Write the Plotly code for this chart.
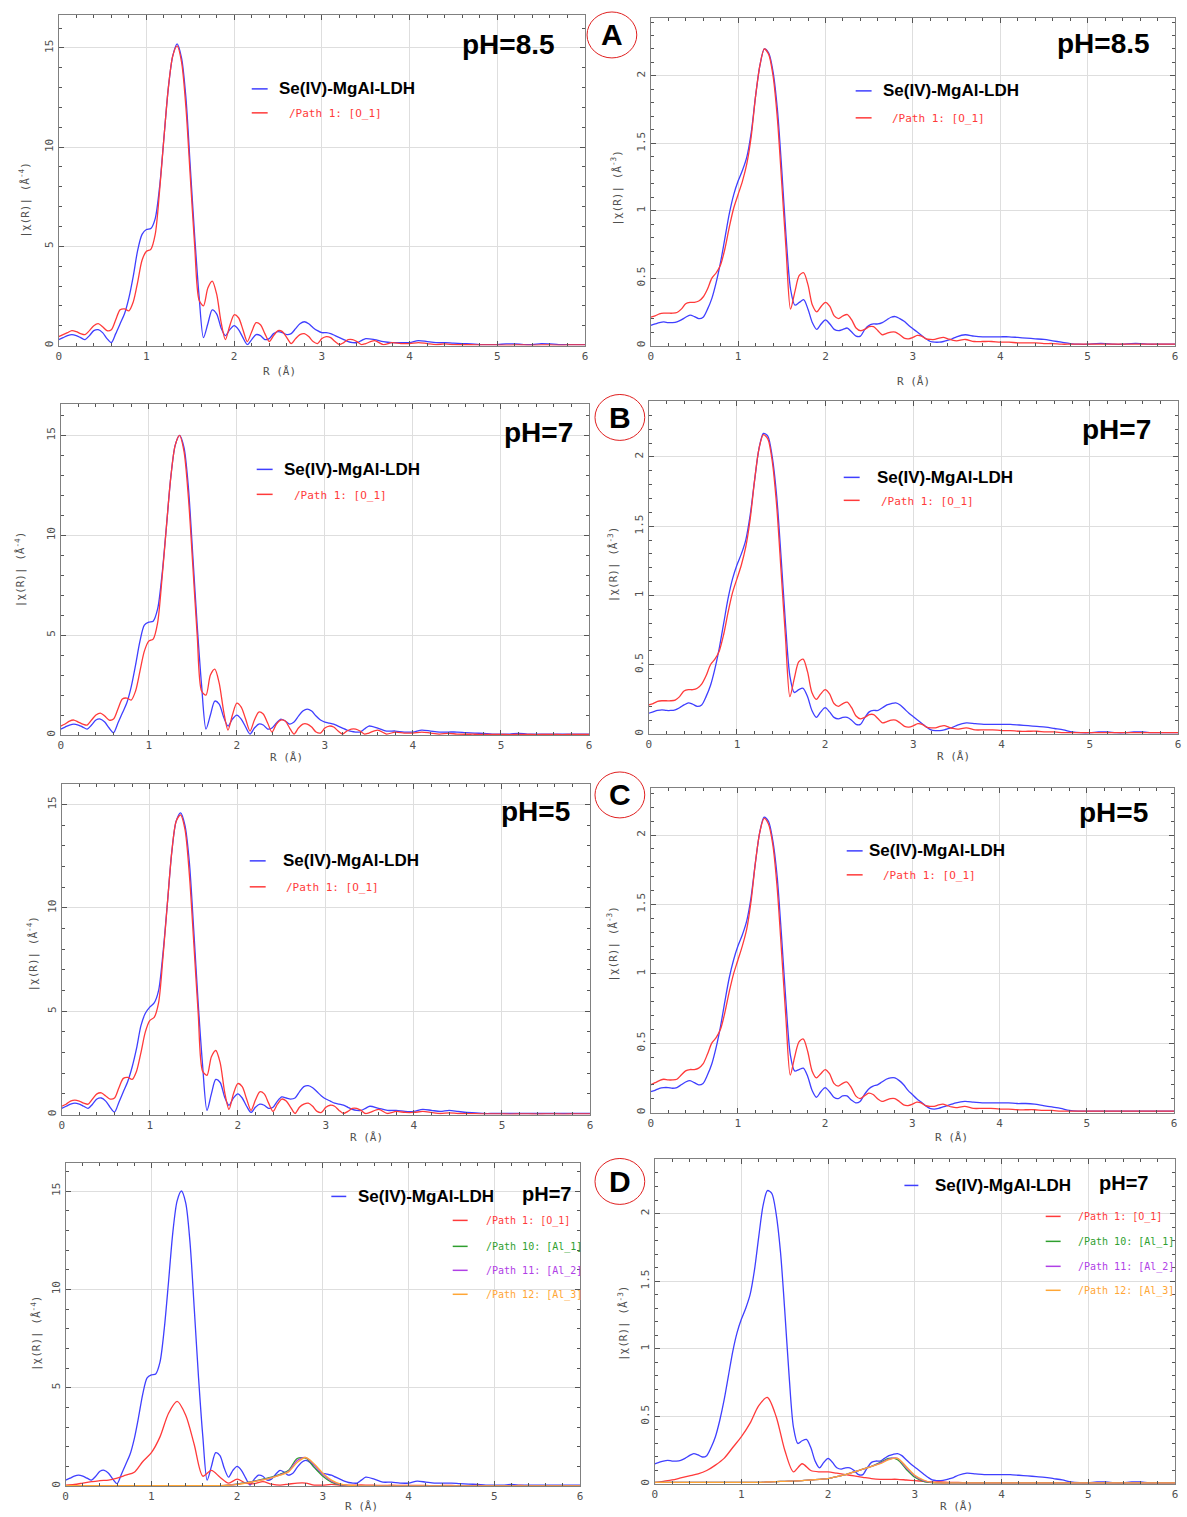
import plotly.graph_objects as go

W, H = 1187, 1517


def px(x):
    return x / W


def py(y):
    return 1 - y / H


# ---------------- data ----------------
r_grid = [0.0, 0.05, 0.1, 0.15, 0.2, 0.25, 0.3, 0.35, 0.4, 0.45, 0.5, 0.55, 0.6, 0.65, 0.7, 0.75,
          0.8, 0.85, 0.9, 0.95, 1.0, 1.05, 1.1, 1.15, 1.2, 1.25, 1.3, 1.35, 1.4, 1.45, 1.5, 1.55,
          1.6, 1.65, 1.7, 1.75, 1.8, 1.85, 1.9, 1.95, 2.0, 2.05, 2.1, 2.15, 2.2, 2.25, 2.3, 2.35,
          2.4, 2.45, 2.5, 2.55, 2.6, 2.65, 2.7, 2.75, 2.8, 2.85, 2.9, 2.95, 3.0, 3.05, 3.1, 3.15,
          3.2, 3.25, 3.3, 3.35, 3.4, 3.45, 3.5, 3.6, 3.7, 3.8, 3.9, 4.0, 4.1, 4.2, 4.3, 4.4, 4.5,
          4.6, 4.7, 4.8, 4.9, 5.0, 5.1, 5.2, 5.3, 5.4, 5.5, 5.6, 5.7, 5.8, 5.9, 6.0]

r_coarse = [0.0, 0.1, 0.2, 0.3, 0.4, 0.5, 0.6, 0.7, 0.8, 0.9, 1.0, 1.1, 1.2, 1.3, 1.4, 1.5, 1.6,
            1.7, 1.8, 1.9, 2.0, 2.1, 2.2, 2.3, 2.4, 2.5, 2.6, 2.7, 2.8, 2.9, 3.0, 3.1, 3.2, 3.3,
            3.4, 3.5, 3.6, 3.7, 3.8, 3.9, 4.0, 4.1, 4.2, 4.3, 4.4, 4.5, 4.6, 4.7, 4.8, 4.9, 5.0,
            5.1, 5.2, 5.3, 5.4, 5.5, 5.6, 5.7, 5.8, 5.9, 6.0]

x_ticks = [0, 1, 2, 3, 4, 5, 6]
x_tick_text = ["0", "1", "2", "3", "4", "5", "6"]
y_ticks_k4 = [0, 5, 10, 15]
y_tick_text_k4 = ["0", "5", "10", "15"]
y_ticks_k3 = [0, 0.5, 1, 1.5, 2]
y_tick_text_k3 = ["0", "0.5", "1", "1.5", "2"]

# pH = 8.5
data_85_k4 = [0.3, 0.4, 0.5, 0.55, 0.5, 0.4, 0.3, 0.5, 0.75, 0.8, 0.65, 0.35, 0.15, 0.6, 1.1, 1.6,
              2.4, 3.5, 4.8, 5.6, 5.85, 5.9, 6.4, 8.0, 10.5, 13.0, 14.6, 15.2, 14.5, 12.5, 9.0, 5.5,
              2.5, 0.4, 1.1, 1.8, 1.6, 0.9, 0.5, 0.8, 1.0, 0.8, 0.4, 0.05, 0.3, 0.55, 0.5, 0.3,
              0.35, 0.6, 0.7, 0.65, 0.55, 0.6, 0.85, 1.1, 1.2, 1.1, 0.9, 0.75, 0.65, 0.65, 0.6,
              0.5, 0.4, 0.3, 0.2, 0.15, 0.15, 0.25, 0.35,
              0.3, 0.2, 0.15, 0.15, 0.15, 0.25, 0.2, 0.15, 0.15, 0.12, 0.1, 0.08, 0.05, 0.05,
              0.05, 0.08, 0.08, 0.05, 0.05, 0.1, 0.08, 0.05, 0.05, 0.05, 0.05]
fit_85_k4 = [0.45, 0.55, 0.65, 0.75, 0.7, 0.6, 0.55, 0.75, 1.0, 1.1, 0.95, 0.75, 0.8, 1.3, 1.8,
             1.85, 1.75, 2.2, 3.2, 4.3, 4.75, 4.85, 5.6, 7.8, 10.5, 13.0, 14.6, 15.1, 14.3, 12.0,
             8.5, 5.0, 2.3, 2.0, 2.9, 3.25, 2.6, 1.2, 0.3, 1.0, 1.55, 1.4, 0.8, 0.2, 0.7, 1.15,
             1.05, 0.6, 0.2, 0.5, 0.75, 0.7, 0.4, 0.1, 0.35, 0.55, 0.6, 0.45, 0.2, 0.1, 0.35,
             0.45, 0.4, 0.2, 0.05, 0.15, 0.3, 0.3, 0.2, 0.05, 0.1,
             0.25, 0.05, 0.15, 0.1, 0.1, 0.15, 0.1, 0.05, 0.08, 0.05, 0.04, 0.04, 0.03, 0.03,
             0.03, 0.02, 0.03, 0.03, 0.02, 0.03, 0.03, 0.02, 0.03, 0.03, 0.03]
data_85_k3 = [0.15, 0.16, 0.17, 0.175, 0.17, 0.17, 0.175, 0.19, 0.21, 0.225, 0.215, 0.2, 0.21,
              0.27, 0.35, 0.47, 0.62, 0.8, 0.98, 1.12, 1.22, 1.3, 1.4, 1.58, 1.85, 2.08, 2.2,
              2.17, 2.03, 1.75, 1.3, 0.8, 0.42, 0.3, 0.32, 0.34, 0.27, 0.17, 0.12, 0.16, 0.19,
              0.16, 0.12, 0.11, 0.12, 0.13, 0.1, 0.07, 0.07, 0.12, 0.15, 0.16, 0.16, 0.17, 0.19,
              0.21, 0.215, 0.2, 0.18, 0.15, 0.125, 0.1, 0.075, 0.05, 0.03, 0.025, 0.025, 0.03,
              0.04, 0.05, 0.065,
              0.08, 0.07, 0.065, 0.065, 0.065, 0.065, 0.06, 0.055, 0.05, 0.045, 0.035, 0.025,
              0.015, 0.01, 0.01, 0.015, 0.015, 0.01, 0.01, 0.015, 0.015, 0.01, 0.01, 0.01, 0.01]
fit_85_k3 = [0.21, 0.22, 0.235, 0.24, 0.24, 0.24, 0.245, 0.27, 0.31, 0.32, 0.32, 0.33, 0.36, 0.42,
             0.5, 0.54, 0.6, 0.72, 0.88, 1.02, 1.12, 1.22, 1.35, 1.55, 1.85, 2.08, 2.2, 2.16, 2.0,
             1.68, 1.2, 0.7, 0.27, 0.4, 0.52, 0.54, 0.45, 0.3, 0.25, 0.29, 0.32, 0.29, 0.22, 0.2,
             0.22, 0.23, 0.19, 0.13, 0.11, 0.12, 0.14, 0.14, 0.11, 0.08, 0.09, 0.1, 0.1, 0.08,
             0.055, 0.05, 0.06, 0.075, 0.07, 0.05, 0.045, 0.045, 0.055, 0.06, 0.05, 0.04, 0.035,
             0.045, 0.03, 0.03, 0.03, 0.025, 0.025, 0.02, 0.02, 0.02, 0.015, 0.015, 0.01, 0.01,
             0.01, 0.01, 0.01, 0.01, 0.01, 0.01, 0.01, 0.01, 0.01, 0.01, 0.01, 0.01]

# pH = 7
data_7_k4 = [0.3, 0.4, 0.5, 0.55, 0.5, 0.4, 0.3, 0.5, 0.75, 0.8, 0.65, 0.35, 0.12, 0.6, 1.1, 1.6,
             2.4, 3.5, 4.7, 5.5, 5.65, 5.7, 6.3, 8.0, 10.4, 12.9, 14.5, 15.0, 14.4, 12.4, 9.0, 5.5,
             2.5, 0.3, 1.0, 1.7, 1.55, 0.9, 0.45, 0.8, 1.0, 0.8, 0.4, 0.05, 0.35, 0.55, 0.5, 0.3,
             0.35, 0.6, 0.8, 0.7, 0.55, 0.65, 0.95, 1.2, 1.3, 1.2, 0.95, 0.75, 0.65, 0.6, 0.55,
             0.45, 0.35, 0.25, 0.18, 0.15, 0.15, 0.3, 0.45,
             0.35, 0.2, 0.2, 0.15, 0.15, 0.25, 0.2, 0.15, 0.15, 0.15, 0.12, 0.1, 0.08, 0.05, 0.05,
             0.05, 0.08, 0.05, 0.05, 0.05, 0.05, 0.05, 0.05, 0.05, 0.05]
fit_7_k4 = [0.45, 0.55, 0.7, 0.75, 0.65, 0.55, 0.5, 0.75, 1.0, 1.1, 0.95, 0.75, 0.8, 1.3, 1.8,
            1.85, 1.75, 2.2, 3.2, 4.2, 4.7, 4.8, 5.6, 7.8, 10.4, 12.9, 14.5, 15.0, 14.2, 11.9,
            8.5, 5.0, 2.2, 2.0, 3.0, 3.3, 2.6, 1.2, 0.25, 1.0, 1.6, 1.4, 0.8, 0.2, 0.75, 1.15,
            1.05, 0.6, 0.15, 0.55, 0.75, 0.7, 0.35, 0.05, 0.35, 0.55, 0.55, 0.4, 0.15, 0.1, 0.35,
            0.45, 0.4, 0.2, 0.05, 0.2, 0.3, 0.3, 0.2, 0.05, 0.1,
            0.25, 0.05, 0.15, 0.1, 0.1, 0.15, 0.1, 0.05, 0.08, 0.05, 0.04, 0.04, 0.03, 0.03,
            0.03, 0.02, 0.03, 0.03, 0.02, 0.03, 0.03, 0.02, 0.03, 0.03, 0.03]
data_7_k3 = [0.15, 0.16, 0.17, 0.175, 0.17, 0.17, 0.175, 0.19, 0.21, 0.225, 0.215, 0.2, 0.21,
             0.27, 0.35, 0.47, 0.62, 0.8, 0.98, 1.12, 1.22, 1.3, 1.4, 1.58, 1.83, 2.06, 2.17,
             2.15, 2.0, 1.72, 1.28, 0.8, 0.42, 0.3, 0.32, 0.33, 0.27, 0.17, 0.12, 0.16, 0.19,
             0.16, 0.12, 0.11, 0.12, 0.12, 0.1, 0.07, 0.07, 0.12, 0.16, 0.17, 0.17, 0.19, 0.21,
             0.22, 0.225, 0.21, 0.18, 0.15, 0.125, 0.1, 0.075, 0.05, 0.03, 0.025, 0.025, 0.03,
             0.04, 0.05, 0.065,
             0.08, 0.075, 0.07, 0.07, 0.07, 0.07, 0.065, 0.06, 0.055, 0.05, 0.04, 0.03, 0.015,
             0.01, 0.01, 0.015, 0.015, 0.01, 0.01, 0.015, 0.015, 0.01, 0.01, 0.01, 0.01]
fit_7_k3 = [0.21, 0.22, 0.235, 0.24, 0.24, 0.24, 0.245, 0.27, 0.31, 0.32, 0.32, 0.33, 0.36, 0.42,
            0.5, 0.54, 0.6, 0.72, 0.88, 1.02, 1.12, 1.22, 1.35, 1.55, 1.83, 2.06, 2.16, 2.13,
            1.97, 1.65, 1.18, 0.7, 0.27, 0.4, 0.52, 0.54, 0.45, 0.3, 0.25, 0.29, 0.32, 0.29,
            0.22, 0.2, 0.22, 0.23, 0.19, 0.13, 0.11, 0.12, 0.14, 0.14, 0.11, 0.08, 0.09, 0.1,
            0.1, 0.08, 0.055, 0.05, 0.06, 0.075, 0.07, 0.05, 0.045, 0.045, 0.055, 0.06, 0.05,
            0.04, 0.035,
            0.045, 0.03, 0.03, 0.03, 0.025, 0.025, 0.02, 0.02, 0.02, 0.015, 0.015, 0.01, 0.01,
            0.01, 0.01, 0.01, 0.01, 0.01, 0.01, 0.01, 0.01, 0.01, 0.01, 0.01, 0.01]

# pH = 5
data_5_k4 = [0.3, 0.4, 0.5, 0.55, 0.5, 0.4, 0.3, 0.5, 0.75, 0.8, 0.65, 0.35, 0.12, 0.6, 1.1, 1.6,
             2.3, 3.2, 4.3, 4.9, 5.2, 5.4, 6.0, 7.8, 10.2, 12.7, 14.2, 14.6, 14.0, 12.2, 8.9, 5.4,
             2.4, 0.2, 1.0, 1.7, 1.55, 0.85, 0.45, 0.8, 1.0, 0.8, 0.4, 0.1, 0.35, 0.5, 0.45, 0.3,
             0.35, 0.65, 0.85, 0.8, 0.75, 0.8, 1.1, 1.35, 1.4, 1.3, 1.1, 0.9, 0.75, 0.65, 0.55,
             0.5, 0.45, 0.35, 0.25, 0.2, 0.2, 0.3, 0.4,
             0.3, 0.2, 0.2, 0.15, 0.15, 0.25, 0.2, 0.15, 0.2, 0.15, 0.1, 0.08, 0.05, 0.05, 0.05,
             0.05, 0.05, 0.05, 0.05, 0.05, 0.05, 0.05, 0.05, 0.05, 0.05]
fit_5_k4 = [0.4, 0.5, 0.65, 0.7, 0.65, 0.55, 0.5, 0.75, 1.0, 1.05, 0.9, 0.75, 0.8, 1.3, 1.75,
            1.8, 1.7, 2.1, 3.0, 4.0, 4.55, 4.7, 5.4, 7.6, 10.2, 12.7, 14.2, 14.5, 13.8, 11.6,
            8.3, 4.9, 2.1, 1.9, 2.8, 3.1, 2.5, 1.1, 0.25, 1.0, 1.5, 1.35, 0.75, 0.2, 0.7, 1.1,
            1.0, 0.55, 0.15, 0.5, 0.75, 0.65, 0.35, 0.05, 0.35, 0.5, 0.55, 0.4, 0.15, 0.1, 0.35,
            0.45, 0.4, 0.2, 0.05, 0.15, 0.3, 0.3, 0.2, 0.05, 0.1,
            0.25, 0.05, 0.15, 0.1, 0.1, 0.15, 0.1, 0.05, 0.08, 0.05, 0.04, 0.04, 0.03, 0.03,
            0.03, 0.02, 0.03, 0.03, 0.02, 0.03, 0.03, 0.02, 0.03, 0.03, 0.03]
data_5_k3 = [0.15, 0.16, 0.175, 0.18, 0.18, 0.175, 0.18, 0.2, 0.22, 0.23, 0.215, 0.2, 0.21, 0.27,
             0.35, 0.47, 0.62, 0.8, 0.97, 1.1, 1.2, 1.28, 1.38, 1.55, 1.8, 2.02, 2.13, 2.1, 1.96,
             1.7, 1.27, 0.8, 0.42, 0.3, 0.31, 0.32, 0.26, 0.16, 0.11, 0.15, 0.18, 0.15, 0.11,
             0.1, 0.12, 0.12, 0.09, 0.07, 0.08, 0.13, 0.17, 0.19, 0.2, 0.22, 0.24, 0.25, 0.25,
             0.23, 0.2, 0.16, 0.13, 0.1, 0.075, 0.05, 0.03, 0.025, 0.03, 0.04, 0.05, 0.06, 0.07,
             0.08, 0.075, 0.07, 0.07, 0.07, 0.07, 0.065, 0.065, 0.06, 0.05, 0.04, 0.03, 0.015,
             0.01, 0.01, 0.01, 0.01, 0.01, 0.01, 0.01, 0.01, 0.01, 0.01, 0.01, 0.01]
fit_5_k3 = [0.2, 0.215, 0.23, 0.24, 0.235, 0.235, 0.24, 0.27, 0.3, 0.31, 0.31, 0.32, 0.35, 0.42,
            0.5, 0.54, 0.6, 0.72, 0.87, 1.0, 1.1, 1.2, 1.32, 1.52, 1.8, 2.02, 2.12, 2.08, 1.93,
            1.62, 1.16, 0.68, 0.27, 0.4, 0.51, 0.53, 0.44, 0.3, 0.25, 0.28, 0.31, 0.28, 0.21,
            0.19, 0.21, 0.22, 0.18, 0.12, 0.1, 0.12, 0.14, 0.13, 0.1, 0.08, 0.09, 0.1, 0.1, 0.08,
            0.055, 0.05, 0.06, 0.075, 0.07, 0.05, 0.045, 0.045, 0.055, 0.06, 0.05, 0.04, 0.035,
            0.045, 0.03, 0.03, 0.03, 0.025, 0.025, 0.02, 0.02, 0.02, 0.015, 0.015, 0.01, 0.01,
            0.01, 0.01, 0.01, 0.01, 0.01, 0.01, 0.01, 0.01, 0.01, 0.01, 0.01, 0.01]

# pH = 7, single-path contributions (coarse grid)
path1_k4 = [0.05, 0.08, 0.15, 0.22, 0.28, 0.3, 0.4, 0.55, 0.7, 1.25, 1.7, 2.5, 3.7, 4.3, 3.6, 2.1,
            0.5, 0.8, 0.45, 0.15, 0.35, 0.15, 0.12, 0.22, 0.1, 0.05, 0.1, 0.15, 0.15, 0.05, 0.05,
            0.08, 0.05, 0.03, 0.05, 0.05, 0.04, 0.03, 0.04, 0.03, 0.03,
            0.03, 0.03, 0.02, 0.03, 0.03, 0.02, 0.02, 0.03, 0.02, 0.02, 0.02, 0.02, 0.03, 0.02,
            0.02, 0.02, 0.02, 0.02, 0.02, 0.02]
path10_k4 = [0.02, 0.02, 0.02, 0.02, 0.02, 0.02, 0.02, 0.02, 0.02, 0.02, 0.02, 0.02, 0.02, 0.02,
             0.02, 0.02, 0.02, 0.02, 0.02, 0.05, 0.1, 0.17, 0.25, 0.35, 0.45, 0.6, 0.8, 1.4, 1.42,
             0.95, 0.5, 0.2, 0.07, 0.02, 0.01, 0.01, 0.01, 0.01, 0.01, 0.01, 0.01, 0.01, 0.01,
             0.01, 0.01, 0.01, 0.01, 0.01, 0.01, 0.01, 0.01, 0.01, 0.01, 0.01, 0.01, 0.01, 0.01,
             0.01, 0.01, 0.01, 0.01]
path11_k4 = [0.02, 0.02, 0.02, 0.02, 0.02, 0.02, 0.02, 0.02, 0.02, 0.02, 0.02, 0.02, 0.02, 0.02,
             0.02, 0.02, 0.02, 0.02, 0.02, 0.05, 0.09, 0.16, 0.24, 0.33, 0.43, 0.57, 0.75, 1.3,
             1.45, 1.05, 0.58, 0.25, 0.09, 0.03, 0.01, 0.01, 0.01, 0.01, 0.01, 0.01, 0.01, 0.01,
             0.01, 0.01, 0.01, 0.01, 0.01, 0.01, 0.01, 0.01, 0.01, 0.01, 0.01, 0.01, 0.01, 0.01,
             0.01, 0.01, 0.01, 0.01, 0.01]
path12_k4 = [0.02, 0.02, 0.02, 0.02, 0.02, 0.02, 0.02, 0.02, 0.02, 0.02, 0.02, 0.02, 0.02, 0.02,
             0.02, 0.02, 0.02, 0.02, 0.02, 0.04, 0.08, 0.15, 0.22, 0.31, 0.41, 0.55, 0.72, 1.2,
             1.45, 1.12, 0.65, 0.3, 0.11, 0.04, 0.01, 0.01, 0.01, 0.01, 0.01, 0.01, 0.01, 0.01,
             0.01, 0.01, 0.01, 0.01, 0.01, 0.01, 0.01, 0.01, 0.01, 0.01, 0.01, 0.01, 0.01, 0.01,
             0.01, 0.01, 0.01, 0.01, 0.01]
path1_k3 = [0.01, 0.02, 0.03, 0.045, 0.06, 0.075, 0.1, 0.14, 0.19, 0.27, 0.35, 0.45, 0.58, 0.64,
            0.5, 0.25, 0.09, 0.15, 0.1, 0.09, 0.09, 0.08, 0.07, 0.06, 0.05, 0.04, 0.035, 0.035,
            0.035, 0.03, 0.025, 0.02, 0.015, 0.015, 0.012, 0.012, 0.01, 0.01, 0.01, 0.01, 0.01,
            0.01, 0.01, 0.01, 0.01, 0.01, 0.01, 0.01, 0.01, 0.01, 0.01, 0.01, 0.01, 0.01, 0.01,
            0.01, 0.01, 0.01, 0.01, 0.01, 0.01]
path10_k3 = [0.012, 0.012, 0.012, 0.012, 0.012, 0.012, 0.012, 0.012, 0.012, 0.012, 0.012, 0.012,
             0.012, 0.015, 0.018, 0.02, 0.022, 0.025, 0.03, 0.035, 0.04, 0.055, 0.07, 0.09, 0.11,
             0.13, 0.16, 0.19, 0.18, 0.11, 0.05, 0.02, 0.01, 0.008, 0.008, 0.008, 0.008, 0.008,
             0.008, 0.008, 0.008, 0.008, 0.008, 0.008, 0.008, 0.008, 0.008, 0.008, 0.008, 0.008,
             0.008, 0.008, 0.008, 0.008, 0.008, 0.008, 0.008, 0.008, 0.008, 0.008, 0.008]
path11_k3 = [0.012, 0.012, 0.012, 0.012, 0.012, 0.012, 0.012, 0.012, 0.012, 0.012, 0.012, 0.012,
             0.012, 0.015, 0.018, 0.02, 0.022, 0.025, 0.03, 0.035, 0.04, 0.055, 0.07, 0.09, 0.11,
             0.13, 0.155, 0.185, 0.19, 0.12, 0.06, 0.025, 0.012, 0.008, 0.008, 0.008, 0.008,
             0.008, 0.008, 0.008, 0.008, 0.008, 0.008, 0.008, 0.008, 0.008, 0.008, 0.008, 0.008,
             0.008, 0.008, 0.008, 0.008, 0.008, 0.008, 0.008, 0.008, 0.008, 0.008, 0.008, 0.008]
path12_k3 = [0.012, 0.012, 0.012, 0.012, 0.012, 0.012, 0.012, 0.012, 0.012, 0.012, 0.012, 0.012,
             0.012, 0.015, 0.018, 0.02, 0.022, 0.025, 0.03, 0.035, 0.04, 0.055, 0.07, 0.09, 0.11,
             0.13, 0.15, 0.18, 0.19, 0.13, 0.065, 0.03, 0.012, 0.008, 0.008, 0.008, 0.008, 0.008,
             0.008, 0.008, 0.008, 0.008, 0.008, 0.008, 0.008, 0.008, 0.008, 0.008, 0.008, 0.008,
             0.008, 0.008, 0.008, 0.008, 0.008, 0.008, 0.008, 0.008, 0.008, 0.008, 0.008]

legend_data = "Se(IV)-MgAl-LDH"
legend_paths = ["/Path 1: [O_1]", "/Path 10: [Al_1]", "/Path 11: [Al_2]", "/Path 12: [Al_3]"]

# ---------------- styling ----------------
BLUE = "#3f3fff"
RED = "#ff3a3a"
GREEN = "#2f9f2f"
PURPLE = "#b040e6"
ORANGE = "#ffa635"
path_colors = [RED, GREEN, PURPLE, ORANGE]

MONO = "DejaVu Sans Mono"
TICKFONT = dict(family=MONO, size=11, color="#505050")
TITLEFONT = dict(family=MONO, size=11, color="#505050")
BOLD = "Liberation Sans"

k4 = dict(ticks=y_ticks_k4, text=y_tick_text_k4, minor=1,
          title="|χ(R)| (Å<sup>-4</sup>)")
k3 = dict(ticks=y_ticks_k3, text=y_tick_text_k3, minor=0.1,
          title="|χ(R)| (Å<sup>-3</sup>)")

panels = [
    dict(frame=(56, 15, 585, 346), ymax=16.66, ax=k4, ph="pH=8.5", phc=(508, 45),
         series=[(r_grid, data_85_k4, BLUE), (r_grid, fit_85_k4, RED)],
         xt=(278, 372), yt=(22, 200), leg=(250, 89, 113, 275, 285),
         boxes=[(238, 55, 445, 138), (445, 18, 584, 70)]),
    dict(frame=(651, 18, 1178, 346), ymax=2.43, ax=k3, ph="pH=8.5", phc=(1106, 44),
         series=[(r_grid, data_85_k3, BLUE), (r_grid, fit_85_k3, RED)],
         xt=(915, 382), yt=(617, 188), leg=(857, 91, 118, 882, 892),
         boxes=[(845, 95, 1040, 133), (880, 21, 1176, 95)]),
    dict(frame=(58, 405, 589, 736), ymax=16.55, ax=k4, ph="pH=7", phc=(538, 433),
         series=[(r_grid, data_7_k4, BLUE), (r_grid, fit_7_k4, RED)],
         xt=(285, 758), yt=(17, 570), leg=(255, 470, 495, 280, 290),
         boxes=[(240, 455, 440, 532), (442, 408, 586, 470)]),
    dict(frame=(649, 402, 1181, 735), ymax=2.40, ax=k3, ph="pH=7", phc=(1119, 430),
         series=[(r_grid, data_7_k3, BLUE), (r_grid, fit_7_k3, RED)],
         xt=(955, 757), yt=(613, 565), leg=(845, 478, 501, 876, 880),
         boxes=[(820, 460, 1030, 525), (1030, 405, 1178, 470)]),
    dict(frame=(59, 785, 590, 1116), ymax=16.0, ax=k4, ph="pH=5", phc=(535, 813),
         series=[(r_grid, data_5_k4, BLUE), (r_grid, fit_5_k4, RED)],
         xt=(365, 1139), yt=(30, 955), leg=(248, 862, 888, 279, 282),
         boxes=[(235, 845, 440, 935), (446, 788, 587, 840)]),
    dict(frame=(651, 789, 1177, 1114), ymax=2.34, ax=k3, ph="pH=5", phc=(1116, 814),
         series=[(r_grid, data_5_k3, BLUE), (r_grid, fit_5_k3, RED)],
         xt=(953, 1139), yt=(613, 945), leg=(848, 852, 876, 868, 882),
         boxes=[(830, 835, 1030, 920), (1030, 792, 1175, 865)]),
    dict(frame=(63, 1165, 580, 1488), ymax=16.4, ax=k4, ph=None,
         series=[(r_grid, data_7_k4, BLUE), (r_coarse, path1_k4, RED),
                 (r_coarse, path10_k4, GREEN), (r_coarse, path11_k4, PURPLE),
                 (r_coarse, path12_k4, ORANGE)],
         xt=(360, 1508), yt=(33, 1335),
         leg4=dict(bline=(330, 345, 1198), btext=(355, 1198), ph=(546, 1196),
                   pline=(452, 467), py=[1222, 1248, 1272, 1296], ptext=483),
         boxes=[(300, 1168, 578, 1210), (440, 1210, 578, 1305)]),
    dict(frame=(655, 1161, 1178, 1486), ymax=2.40, ax=k3, ph=None,
         series=[(r_grid, data_7_k3, BLUE), (r_coarse, path1_k3, RED),
                 (r_coarse, path10_k3, GREEN), (r_coarse, path11_k3, PURPLE),
                 (r_coarse, path12_k3, ORANGE)],
         xt=(958, 1508), yt=(623, 1325),
         leg4=dict(bline=(906, 920, 1187), btext=(935, 1187), ph=(1126, 1185),
                   pline=(1048, 1063), py=[1218, 1243, 1268, 1292], ptext=1078),
         boxes=[(895, 1165, 1176, 1205), (1042, 1205, 1176, 1305)]),
]

circles = [("A", 612, 35), ("B", 620, 418), ("C", 620, 796), ("D", 620, 1183)]

fig = go.Figure()
shapes = []
annotations = []
layout_axes = {}

for i, p in enumerate(panels, start=1):
    x0, y0, x1, y1 = p["frame"]
    xr = "x" if i == 1 else f"x{i}"
    yr = "y" if i == 1 else f"y{i}"
    xk = "xaxis" if i == 1 else f"xaxis{i}"
    yk = "yaxis" if i == 1 else f"yaxis{i}"
    ax = p["ax"]
    layout_axes[xk] = dict(
        domain=[px(x0), px(x1)], range=[0, 6], anchor=yr,
        tickmode="array", tickvals=x_ticks, ticktext=x_tick_text,
        ticks="inside", ticklen=5, tickcolor="#555", tickwidth=1,
        showline=True, linecolor="#808080", linewidth=1, mirror="allticks",
        showgrid=True, gridcolor="#dedede", gridwidth=1, zeroline=False,
        tickfont=TICKFONT,
        minor=dict(ticks="inside", ticklen=3, tickcolor="#555", dtick=0.2, showgrid=False),
    )
    layout_axes[yk] = dict(
        domain=[py(y1), py(y0)], range=[0, p["ymax"]], anchor=xr,
        tickmode="array", tickvals=ax["ticks"], ticktext=ax["text"], tickangle=-90,
        ticks="inside", ticklen=5, tickcolor="#555", tickwidth=1,
        showline=True, linecolor="#808080", linewidth=1, mirror="allticks",
        showgrid=True, gridcolor="#dedede", gridwidth=1, zeroline=False,
        tickfont=TICKFONT,
        minor=dict(ticks="inside", ticklen=3, tickcolor="#555", dtick=ax["minor"], showgrid=False),
    )

    for (bx0, by0, bx1, by1) in p["boxes"]:
        shapes.append(dict(type="rect", xref="paper", yref="paper", layer="between",
                           x0=px(bx0), x1=px(bx1), y0=py(by1), y1=py(by0),
                           fillcolor="white", line=dict(width=0)))

    for xs, ys, col in p["series"]:
        fig.add_trace(go.Scatter(x=xs, y=ys, xaxis=xr, yaxis=yr, mode="lines",
                                 line=dict(color=col, width=1.3, shape="spline", smoothing=0.8),
                                 showlegend=False, hoverinfo="skip"))

    # axis titles
    annotations.append(dict(xref="paper", yref="paper", x=px(p["xt"][0]), y=py(p["xt"][1]),
                            text="R (Å)", showarrow=False, font=TITLEFONT,
                            xanchor="center", yanchor="middle"))
    annotations.append(dict(xref="paper", yref="paper", x=px(p["yt"][0]), y=py(p["yt"][1]),
                            text=ax["title"], textangle=-90, showarrow=False, font=TITLEFONT,
                            xanchor="center", yanchor="middle"))

    if p["ph"]:
        annotations.append(dict(xref="paper", yref="paper", x=px(p["phc"][0]), y=py(p["phc"][1]),
                                text=f"<b>{p['ph']}</b>", showarrow=False,
                                font=dict(family=BOLD, size=28, color="black"),
                                xanchor="center", yanchor="middle"))
        lx, by, ry, btx, rtx = p["leg"]
        shapes.append(dict(type="line", xref="paper", yref="paper", x0=px(lx), x1=px(lx + 16),
                           y0=py(by), y1=py(by), line=dict(color=BLUE, width=1.5)))
        shapes.append(dict(type="line", xref="paper", yref="paper", x0=px(lx), x1=px(lx + 16),
                           y0=py(ry), y1=py(ry), line=dict(color=RED, width=1.5)))
        annotations.append(dict(xref="paper", yref="paper", x=px(btx), y=py(by),
                                text=f"<b>{legend_data}</b>", showarrow=False,
                                font=dict(family=BOLD, size=17, color="black"),
                                xanchor="left", yanchor="middle"))
        annotations.append(dict(xref="paper", yref="paper", x=px(rtx), y=py(ry + 1),
                                text=legend_paths[0], showarrow=False,
                                font=dict(family=MONO, size=11, color=RED),
                                xanchor="left", yanchor="middle"))
    else:
        L = p["leg4"]
        bx0, bx1, byy = L["bline"]
        shapes.append(dict(type="line", xref="paper", yref="paper", x0=px(bx0), x1=px(bx1),
                           y0=py(byy), y1=py(byy), line=dict(color=BLUE, width=1.5)))
        annotations.append(dict(xref="paper", yref="paper", x=px(L["btext"][0]),
                                y=py(L["btext"][1]), text=f"<b>{legend_data}</b>",
                                showarrow=False, font=dict(family=BOLD, size=17, color="black"),
                                xanchor="left", yanchor="middle"))
        annotations.append(dict(xref="paper", yref="paper", x=px(L["ph"][0]), y=py(L["ph"][1]),
                                text="<b>pH=7</b>", showarrow=False,
                                font=dict(family=BOLD, size=20, color="black"),
                                xanchor="center", yanchor="middle"))
        for lab, col, yy in zip(legend_paths, path_colors, L["py"]):
            shapes.append(dict(type="line", xref="paper", yref="paper", x0=px(L["pline"][0]),
                               x1=px(L["pline"][1]), y0=py(yy), y1=py(yy),
                               line=dict(color=col, width=1.5)))
            annotations.append(dict(xref="paper", yref="paper", x=px(L["ptext"]), y=py(yy + 1),
                                    text=lab, showarrow=False,
                                    font=dict(family=MONO, size=10, color=col),
                                    xanchor="left", yanchor="middle"))

for lab, cx, cy in circles:
    shapes.append(dict(type="circle", xref="paper", yref="paper",
                       x0=px(cx - 25), x1=px(cx + 25), y0=py(cy + 23), y1=py(cy - 23),
                       line=dict(color="#e02020", width=1)))
    annotations.append(dict(xref="paper", yref="paper", x=px(cx), y=py(cy),
                            text=f"<b>{lab}</b>", showarrow=False,
                            font=dict(family=BOLD, size=30, color="black"),
                            xanchor="center", yanchor="middle"))

fig.update_layout(width=W, height=H, margin=dict(l=0, r=0, t=0, b=0),
                  paper_bgcolor="white", plot_bgcolor="white",
                  font=dict(family=MONO, size=11, color="#505050"),
                  shapes=shapes, annotations=annotations, showlegend=False,
                  **layout_axes)

fig.write_html(
    "out.html",
    config={"displayModeBar": False},
    post_script="document.body.style.margin='0';document.body.style.padding='0';"
                "document.body.style.overflow='hidden';",
)
